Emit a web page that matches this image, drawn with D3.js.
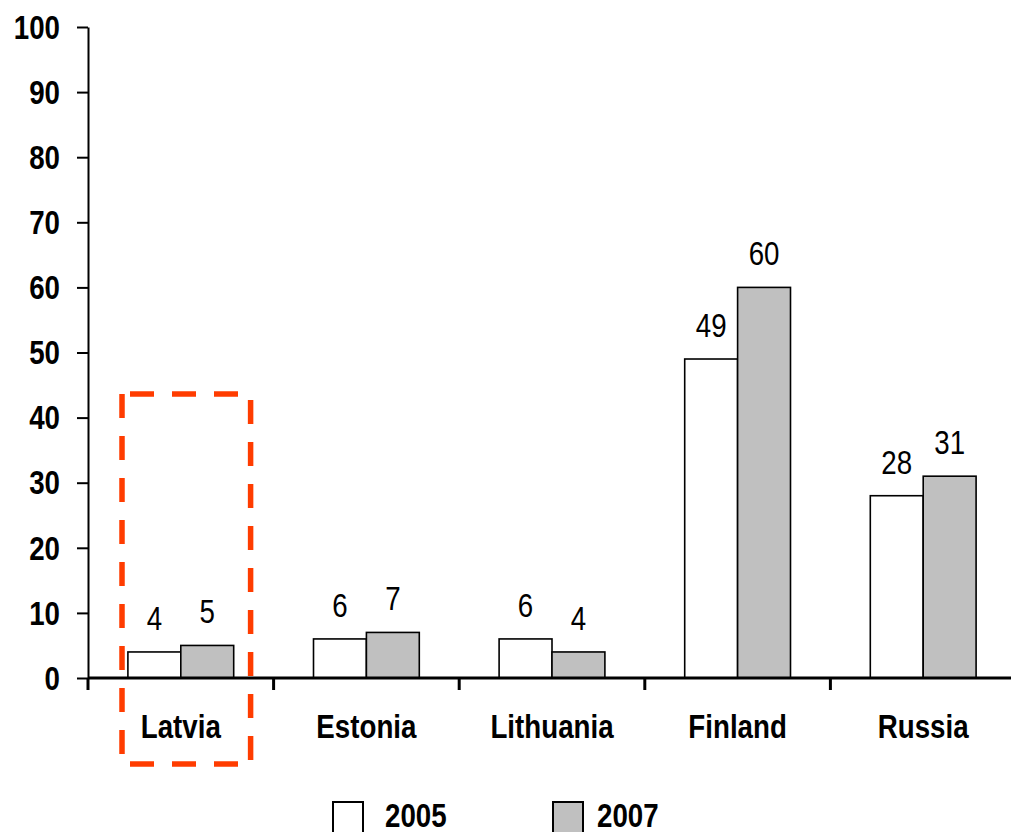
<!DOCTYPE html>
<html>
<head>
<meta charset="utf-8">
<script src="https://cdn.jsdelivr.net/npm/d3@7.9.0/dist/d3.min.js"></script>
<style>
  body { margin: 0; background: #fff; }
  svg { display: block; }
  text { font-family: "Liberation Sans", Arial, sans-serif; font-size: 33px; fill: #000; }
  .bold { font-weight: bold; }
</style>
</head>
<body>
<svg id="chart" width="1011" height="832"></svg>
<script>
const categories = ['Latvia', 'Estonia', 'Lithuania', 'Finland', 'Russia'];
const seriesNames = ['2005', '2007'];
const values2005 = [4, 6, 6, 49, 28];
const values2007 = [5, 7, 4, 60, 31];
const yTicks = [0, 10, 20, 30, 40, 50, 60, 70, 80, 90, 100];
const highlighted = 'Latvia';

const fills = ['#ffffff', '#c0c0c0'];
const squeeze = 0.84; // narrow look of the original font
const svg = d3.select('#chart');

// squeeze text horizontally around its anchor point
function narrow(sel) {
  sel.each(function () {
    const t = d3.select(this);
    const x = +t.attr('x') || 0, y = +t.attr('y') || 0;
    t.attr('x', 0).attr('y', 0).attr('transform', `translate(${x},${y}) scale(${squeeze},1)`);
  });
}

const y = d3.scaleLinear().domain([0, 100]).range([678, 27]);
// category slots (ticks sit on slot edges)
const xCat = d3.scaleBand().domain(categories).range([88, 1016]);
// bar pairs inside each slot
const x0 = xCat.copy().paddingInner(0.43).paddingOuter(0.215);
const x1 = d3.scaleBand().domain(seriesNames).range([0, x0.bandwidth()]);

const rows = categories.map((c, i) => ({ cat: c, vals: [values2005[i], values2007[i]] }));

// y axis
const yAxis = svg.append('g')
  .attr('transform', 'translate(88,0)')
  .call(d3.axisLeft(y).tickValues(yTicks).tickSize(11).tickPadding(17).tickSizeOuter(0));
yAxis.attr('font-family', null).attr('font-size', null);
yAxis.select('.domain').attr('stroke', '#000').attr('stroke-width', 2);
yAxis.selectAll('.tick line').attr('stroke', '#000').attr('stroke-width', 2);
yAxis.selectAll('.tick text')
  .attr('class', 'bold')
  .attr('dy', '0.34em')
  .call(narrow);

// bars
const groups = svg.append('g').selectAll('g')
  .data(rows)
  .join('g')
  .attr('transform', d => `translate(${x0(d.cat)},0)`);

groups.selectAll('rect')
  .data(d => d.vals.map((v, j) => ({ v, s: seriesNames[j], j })))
  .join('rect')
  .attr('x', d => x1(d.s))
  .attr('y', d => y(d.v))
  .attr('width', x1.bandwidth())
  .attr('height', d => y(0) - y(d.v))
  .attr('fill', d => fills[d.j])
  .attr('stroke', '#000')
  .attr('stroke-width', 1.6);

groups.selectAll('text.val')
  .data(d => d.vals.map((v, j) => ({ v, s: seriesNames[j] })))
  .join('text')
  .attr('class', 'val')
  .attr('x', d => x1(d.s) + x1.bandwidth() / 2)
  .attr('y', d => y(d.v) - 22)
  .attr('text-anchor', 'middle')
  .text(d => d.v)
  .call(narrow);

// x axis
const xAxis = svg.append('g');
xAxis.append('line')
  .attr('x1', 88).attr('x2', xCat.range()[1])
  .attr('y1', y(0)).attr('y2', y(0))
  .attr('stroke', '#000').attr('stroke-width', 3.2);
xAxis.selectAll('line.tick')
  .data(categories)
  .join('line')
  .attr('class', 'tick')
  .attr('x1', d => xCat(d)).attr('x2', d => xCat(d))
  .attr('y1', y(0)).attr('y2', y(0) + 12)
  .attr('stroke', '#000').attr('stroke-width', 3);
xAxis.selectAll('text')
  .data(categories)
  .join('text')
  .attr('class', 'bold')
  .attr('x', d => xCat(d) + xCat.bandwidth() / 2)
  .attr('y', 738)
  .attr('text-anchor', 'middle')
  .text(d => d)
  .call(narrow);

// red dashed highlight box around Latvia
const bx0 = xCat(highlighted) + 34;
const bx1 = xCat(highlighted) + xCat.bandwidth() - 23;
const by0 = 394, by1 = 764;
const box = svg.append('g')
  .attr('stroke', '#ff3c00').attr('stroke-width', 5.5)
  .attr('stroke-dasharray', '24 18').attr('fill', 'none');
[[bx0, by0, bx0, by1], [bx0 + 8, by0, bx1, by0], [bx1, by0 + 6, bx1, by1], [bx0 + 8, by1, bx1, by1]]
  .forEach(([a, b, c, d]) => box.append('line').attr('x1', a).attr('y1', b).attr('x2', c).attr('y2', d));

// legend
const legendX = [333, 553];
const legend = svg.append('g').selectAll('g')
  .data(seriesNames)
  .join('g')
  .attr('transform', (d, i) => `translate(${legendX[i]},802)`);
legend.append('rect')
  .attr('width', 30).attr('height', 31)
  .attr('fill', (d, i) => fills[i])
  .attr('stroke', '#000').attr('stroke-width', 2);
legend.append('text')
  .attr('class', 'bold')
  .attr('x', (d, i) => i === 0 ? 52 : 44)
  .attr('y', 25)
  .text(d => d)
  .call(narrow);
</script>
</body>
</html>
